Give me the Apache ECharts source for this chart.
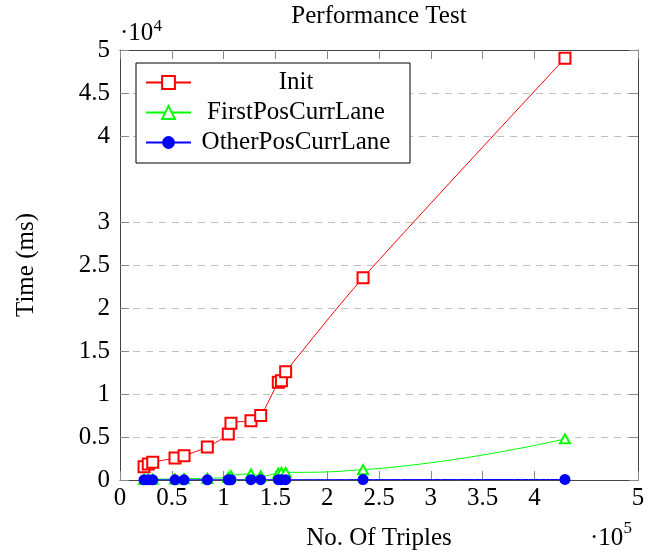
<!DOCTYPE html>
<html>
<head>
<meta charset="utf-8">
<title>Performance Test</title>
<script src="https://cdn.jsdelivr.net/npm/echarts@6/dist/echarts.min.js"></script>
<style>
  html, body { margin: 0; padding: 0; background: #fff; }
  #chart { width: 667px; height: 559px; }
</style>
</head>
<body>
<div id="chart"></div>
<script>
// values
const triples = [23200, 27300, 31600, 53100, 61800, 84300, 104500, 107100, 126400, 135800, 152800, 155800, 159900, 234600, 429500]
const initTimes = [1550, 1860, 2060, 2560, 2830, 3840, 5350, 6590, 6900, 7500, 11360, 11550, 12590, 23520, 49030]
const firstPosTimes = [60, 70, 90, 120, 150, 200, 300, 500, 700, 470, 810, 890, 890, 1200, 4780]
const otherPosTimes = [15, 15, 18, 20, 22, 25, 28, 30, 32, 34, 36, 37, 38, 45, 60]

// ticks (4.5e5 on x and 3.5e4 on y are not drawn in the original)
const xTicks = [0, 50000, 100000, 150000, 200000, 250000, 300000, 350000, 400000, 500000]
const yTicks = [0, 5000, 10000, 15000, 20000, 25000, 30000, 40000, 45000, 50000]

const font = 'Liberation Serif'
const frameColor = '#444'
const tickColor = '#888'

const chart = echarts.init(document.getElementById('chart'))

const pairs = vals => triples.map((x, i) => [x, vals[i]])

function xAxis(position, labels) {
  return {
    type: 'value',
    position: position,
    min: 0,
    max: 500000,
    axisLine: {show: true, onZero: false, lineStyle: {color: frameColor, width: 1}},
    axisTick: {show: true, inside: true, length: 9, customValues: xTicks, lineStyle: {color: tickColor}},
    axisLabel: {
      show: labels,
      customValues: xTicks,
      margin: 6,
      fontFamily: font,
      fontSize: 25,
      lineHeight: 25,
      color: '#000',
      formatter: v => String(v / 1e5)
    },
    splitLine: {show: false}
  }
}

function yAxis(position, labels) {
  return {
    type: 'value',
    position: position,
    min: 0,
    max: 50000,
    axisLine: {show: true, onZero: false, lineStyle: {color: frameColor, width: 1}},
    axisTick: {show: true, inside: true, length: 9, customValues: yTicks, lineStyle: {color: tickColor}},
    axisLabel: {
      show: labels,
      customValues: yTicks,
      margin: 10,
      fontFamily: font,
      fontSize: 25,
      color: '#000',
      formatter: v => String(v / 1e4)
    },
    splitLine: {show: labels, lineStyle: {color: '#c0c0c0', width: 1, type: [7, 6]}}
  }
}

const xMain = xAxis('bottom', true)
xMain.name = 'No. Of Triples'
xMain.nameLocation = 'middle'
xMain.nameGap = 46
xMain.nameTextStyle = {fontFamily: font, fontSize: 25, lineHeight: 25, color: '#000'}

const yMain = yAxis('left', true)
yMain.name = 'Time (ms)'
yMain.nameLocation = 'middle'
yMain.nameGap = 81
yMain.nameTextStyle = {fontFamily: font, fontSize: 25, lineHeight: 25, color: '#000'}

const option = {
  backgroundColor: '#fff',
  animation: false,
  title: {
    text: 'Performance Test',
    left: 379,
    textAlign: 'center',
    top: 1,
    padding: 0,
    textStyle: {fontFamily: font, fontSize: 25, lineHeight: 30, fontWeight: 'normal', color: '#000'}
  },
  grid: {left: 120, right: 29, top: 50, bottom: 79},
  xAxis: [xMain, xAxis('top', false)],
  yAxis: [yMain, yAxis('right', false)],
  legend: {
    orient: 'vertical',
    left: 136,
    top: 63,
    padding: [7, 14, 8, 9],
    itemGap: 5,
    itemWidth: 45,
    itemHeight: 16,
    backgroundColor: '#fff',
    borderColor: '#000',
    borderWidth: 1,
    borderRadius: 0,
    formatter: name => '{c|' + name + '}',
    textStyle: {
      fontFamily: font,
      fontSize: 25,
      color: '#000',
      rich: {c: {width: 200, align: 'center', fontFamily: font, fontSize: 25, lineHeight: 28, color: '#000'}}
    }
  },
  graphic: [
    // axis multipliers
    {type: 'text', x: 120, y: 33.5, style: {text: '·10', fontFamily: font, fontSize: 25, fill: '#000', verticalAlign: 'middle'}},
    {type: 'text', x: 153.5, y: 27, style: {text: '4', fontFamily: font, fontSize: 17, fill: '#000', verticalAlign: 'middle'}},
    {type: 'text', x: 590, y: 538, style: {text: '·10', fontFamily: font, fontSize: 25, fill: '#000', verticalAlign: 'middle'}},
    {type: 'text', x: 623.5, y: 529, style: {text: '5', fontFamily: font, fontSize: 17, fill: '#000', verticalAlign: 'middle'}}
  ],
  series: [
    {
      name: 'Init',
      type: 'line',
      data: pairs(initTimes),
      smooth: 0.25,
      color: '#ff0000',
      symbol: 'emptyRect',
      symbolSize: 11,
      lineStyle: {width: 1},
      itemStyle: {borderWidth: 1}
    },
    {
      name: 'FirstPosCurrLane',
      type: 'line',
      data: pairs(firstPosTimes),
      smooth: 0.5,
      color: '#00ff00',
      symbol: 'emptyTriangle',
      symbolSize: [10, 9],
      lineStyle: {width: 1},
      itemStyle: {borderWidth: 1}
    },
    {
      name: 'OtherPosCurrLane',
      type: 'line',
      data: pairs(otherPosTimes),
      smooth: 0.25,
      color: '#0000ff',
      symbol: 'circle',
      symbolSize: 11,
      lineStyle: {width: 1}
    }
  ]
}

chart.setOption(option)
</script>
</body>
</html>
